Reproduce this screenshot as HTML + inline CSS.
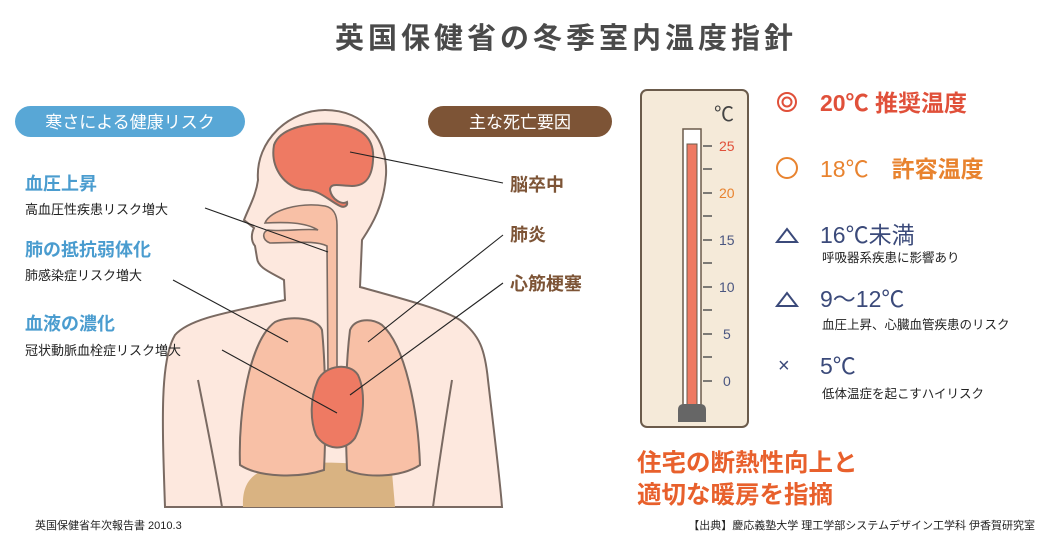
<!DOCTYPE html>
<html><head><meta charset="utf-8"><style>
body{margin:0;background:#fff;}
svg{display:block;font-family:"Liberation Sans","Noto Sans CJK JP",sans-serif;}
</style></head><body>
<svg width="1048" height="542" viewBox="0 0 1048 542" xmlns="http://www.w3.org/2000/svg">
<rect width="1048" height="542" fill="#fff"/>
<text x="566" y="48" font-size="29" font-weight="bold" fill="#4a4a4a" text-anchor="middle" letter-spacing="4">英国保健省の冬季室内温度指針</text>

<!-- body -->
<path d="M165,507 C162,420 160,360 175,335 C190,318 230,312 285,300 L284,280 C270,272 258,268 257,258 L255,246 C250,240 252,232 254,228 L244,220 C250,205 256,195 258,180 C255,140 290,110 325,110 C365,110 388,140 386,175 C384,205 372,225 362,240 L360,287 C400,298 445,310 460,320 C480,335 485,350 488,380 C495,440 500,480 502,507 Z" fill="#fde8de" stroke="#7a6a62" stroke-width="2"/>
<path d="M198,380 C208,430 216,470 222,507" fill="none" stroke="#7a6a62" stroke-width="2"/>
<path d="M452,380 C444,430 438,470 433,507" fill="none" stroke="#7a6a62" stroke-width="2"/>
<path d="M243,507 C242,485 250,470 280,466 C320,460 370,462 392,472 L395,507 Z" fill="#d9b382"/>
<path d="M240,465 C238,410 250,340 275,322 C290,315 318,318 322,330 C326,370 326,430 324,470 C300,478 260,478 240,465 Z" fill="#f8c0a6" stroke="#7a6a62" stroke-width="2"/>
<path d="M347,470 C345,420 345,370 350,330 C355,318 372,318 382,325 C405,345 418,410 420,465 C400,478 365,478 347,470 Z" fill="#f8c0a6" stroke="#7a6a62" stroke-width="2"/>
<path d="M265,223 C270,210 300,202 325,206 C334,208 337,215 337,225 L337,372 L328,372 L327,246 C315,240 295,243 270,243 C262,240 262,232 268,230 C285,232 305,228 318,230 C305,222 285,222 265,223 Z" fill="#f8c0a6" stroke="#7a6a62" stroke-width="1.6"/>
<path d="M318,380 C325,365 350,362 358,375 C366,392 364,420 355,438 C345,452 325,450 316,435 C310,420 310,398 318,380 Z" fill="#ee7a63" stroke="#7a6a62" stroke-width="2"/>
<!-- brain -->
<path d="M274,145 C280,128 308,122 335,124 C360,126 375,137 373,160 C372,178 365,186 352,186 C340,186 330,182 330,190 C332,200 342,205 347,202 C348,206 344,208 340,206 C328,200 320,190 305,190 C285,188 270,168 274,145 Z" fill="#ee7a63" stroke="#7a6a62" stroke-width="2"/>
<g stroke="#222" stroke-width="1.1">
<line x1="350" y1="152" x2="503" y2="183"/>
<line x1="368" y1="342" x2="503" y2="235"/>
<line x1="350" y1="395" x2="503" y2="283"/>
<line x1="205" y1="208" x2="328" y2="252"/>
<line x1="173" y1="280" x2="288" y2="342"/>
<line x1="222" y1="350" x2="337" y2="413"/>
</g>

<rect x="15" y="106" width="230" height="31" rx="15.5" fill="#58a7d6"/>
<text x="130" y="128" font-size="17" fill="#fff" text-anchor="middle">寒さによる健康リスク</text>
<rect x="428" y="106" width="184" height="31" rx="15.5" fill="#7d5436"/>
<text x="520" y="128" font-size="17" fill="#fff" text-anchor="middle">主な死亡要因</text>

<g fill="#4a9ccf" font-size="18" font-weight="bold">
<text x="25" y="190">血圧上昇</text>
<text x="25" y="256">肺の抵抗弱体化</text>
<text x="25" y="330">血液の濃化</text>
</g>
<g fill="#222" font-size="13">
<text x="25" y="214">高血圧性疾患リスク増大</text>
<text x="25" y="280">肺感染症リスク増大</text>
<text x="25" y="355">冠状動脈血栓症リスク増大</text>
</g>
<g fill="#7d5436" font-size="18" font-weight="bold">
<text x="510" y="191">脳卒中</text>
<text x="510" y="241">肺炎</text>
<text x="510" y="290">心筋梗塞</text>
</g>

<rect x="641" y="90" width="107" height="337" rx="6" fill="#f5ead9" stroke="#6b5b4b" stroke-width="2"/>
<text x="714" y="121" font-size="20" fill="#444">℃</text>
<rect x="683" y="129" width="18" height="280" fill="#fff" stroke="#6b5b4b" stroke-width="1.5"/>
<rect x="687" y="144" width="10" height="262" fill="#ee7a63" stroke="#6b5b4b" stroke-width="1"/>
<path d="M678,410 Q678,404 684,404 L700,404 Q706,404 706,410 L706,422 L678,422 Z" fill="#666"/>
<g stroke="#555" stroke-width="1.5">
<line x1="703" y1="146" x2="712" y2="146"/><line x1="703" y1="169" x2="712" y2="169"/>
<line x1="703" y1="193" x2="712" y2="193"/><line x1="703" y1="216" x2="712" y2="216"/>
<line x1="703" y1="240" x2="712" y2="240"/><line x1="703" y1="263" x2="712" y2="263"/>
<line x1="703" y1="287" x2="712" y2="287"/><line x1="703" y1="310" x2="712" y2="310"/>
<line x1="703" y1="334" x2="712" y2="334"/><line x1="703" y1="357" x2="712" y2="357"/>
<line x1="703" y1="381" x2="712" y2="381"/>
</g>
<g font-size="14">
<text x="719" y="151" fill="#e0503a">25</text>
<text x="719" y="198" fill="#e8832f">20</text>
<text x="719" y="245" fill="#4a5680">15</text>
<text x="719" y="292" fill="#4a5680">10</text>
<text x="723" y="339" fill="#4a5680">5</text>
<text x="723" y="386" fill="#4a5680">0</text>
</g>

<circle cx="787" cy="102" r="9" fill="none" stroke="#e0503a" stroke-width="2"/>
<circle cx="787" cy="102" r="4.5" fill="none" stroke="#e0503a" stroke-width="2"/>
<text x="820" y="111" font-size="23" font-weight="bold" fill="#e0503a">20℃ 推奨温度</text>
<circle cx="787" cy="168" r="10" fill="none" stroke="#e8832f" stroke-width="2"/>
<text x="820" y="177" font-size="23" fill="#e8832f">18℃　<tspan font-weight="bold">許容温度</tspan></text>
<path d="M777,242 L787,229 L797,242 Z" fill="none" stroke="#3b4a7a" stroke-width="2"/>
<text x="820" y="243" font-size="23" fill="#3b4a7a">16℃未満</text>
<text x="822" y="262" font-size="12.5" fill="#222">呼吸器系疾患に影響あり</text>
<path d="M777,306 L787,293 L797,306 Z" fill="none" stroke="#3b4a7a" stroke-width="2"/>
<text x="820" y="307" font-size="23" fill="#3b4a7a">9〜12℃</text>
<text x="822" y="329" font-size="12.5" fill="#222">血圧上昇、心臓血管疾患のリスク</text>
<text x="778" y="372" font-size="20" fill="#3b4a7a">×</text>
<text x="820" y="374" font-size="23" fill="#3b4a7a">5℃</text>
<text x="822" y="398" font-size="12.5" fill="#222">低体温症を起こすハイリスク</text>

<g font-size="24.5" font-weight="bold" fill="#e8602c">
<text x="637" y="471">住宅の断熱性向上と</text>
<text x="637" y="503">適切な暖房を指摘</text>
</g>
<text x="35" y="529" font-size="11" fill="#222">英国保健省年次報告書 2010.3</text>
<text x="1035" y="529" font-size="11" fill="#222" text-anchor="end">【出典】慶応義塾大学 理工学部システムデザイン工学科 伊香賀研究室</text>
</svg>
</body></html>
